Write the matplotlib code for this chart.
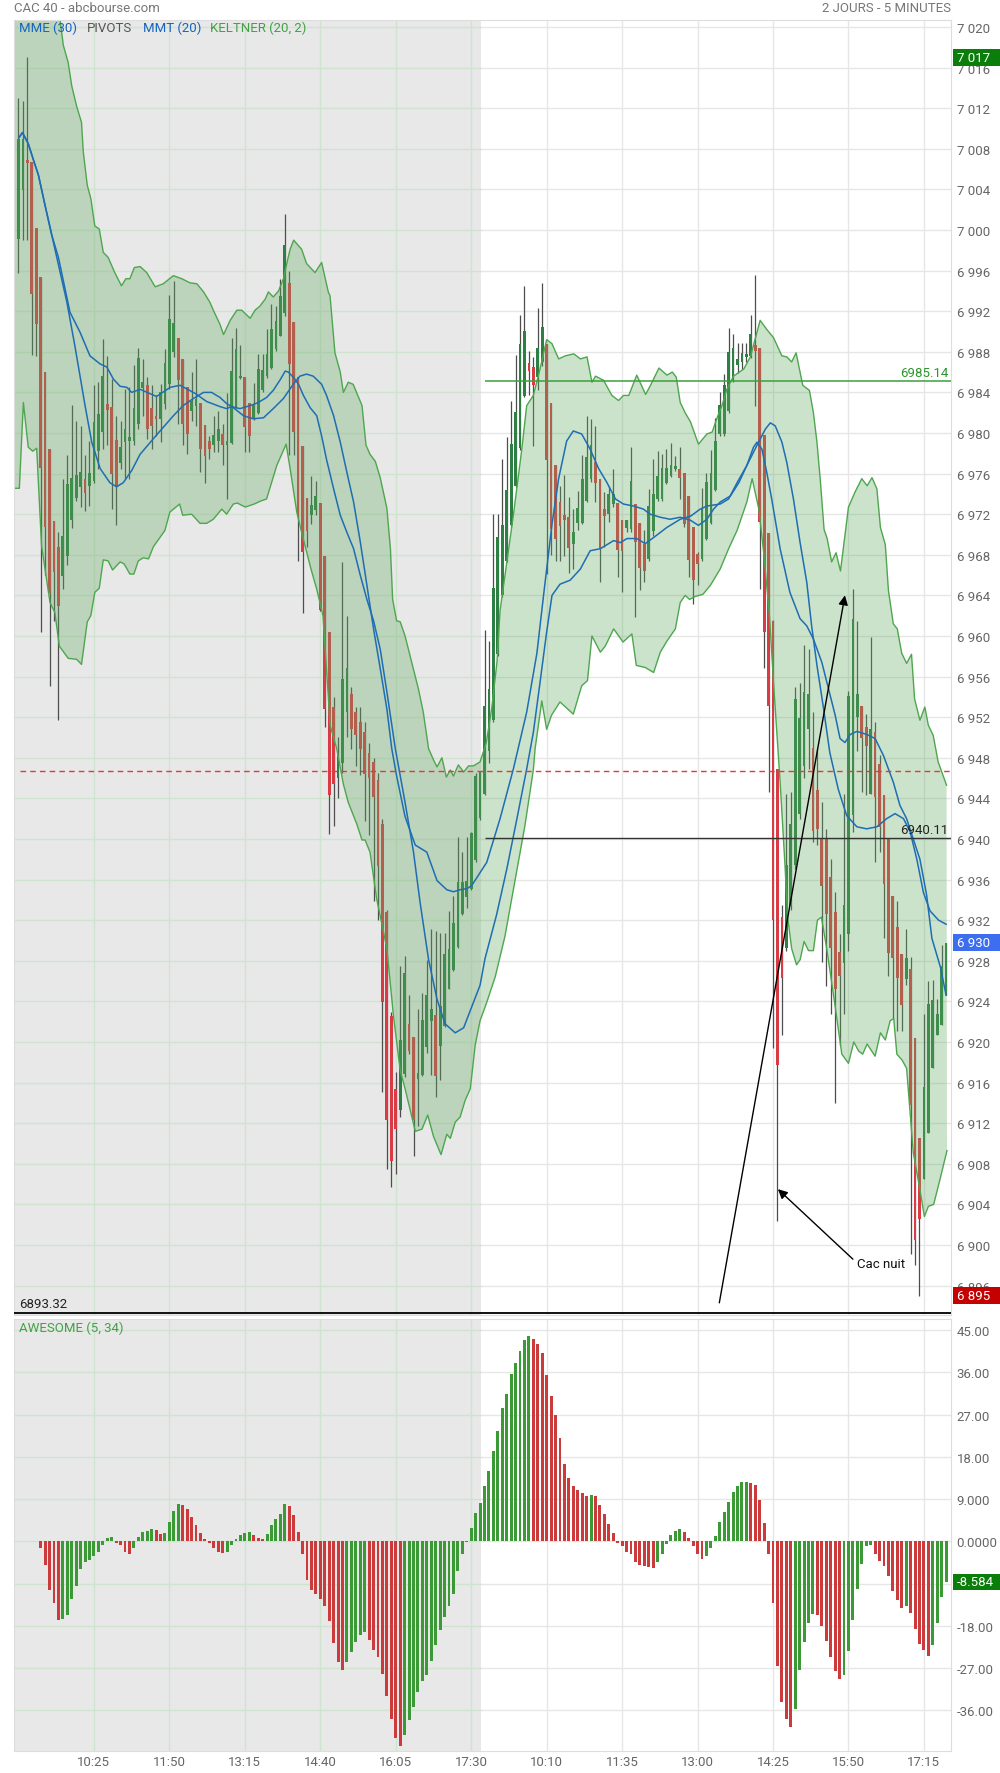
import matplotlib

matplotlib.use("Agg")
import matplotlib.pyplot as plt
import matplotlib.transforms as mtransforms
from matplotlib.patches import Rectangle
import numpy as np

plt.rcParams["font.family"] = ["Roboto", "DejaVu Sans"]

# ---- candles, 5 min, index 0 = day 1 09:00, index 105 = day 2 09:00 ----
opens = [
    6999.1, 7003.9, 7006.8, 7006.7, 7000.2, 6995.4, 6986.0, 6978.4, 6971.3, 6968.8,
    6965.9, 6967.9, 6971.4, 6973.6, 6974.7, 6975.5, 6974.8, 6975.3, 6978.2, 6980.1,
    6982.9, 6982.6, 6979.3, 6977.0, 6979.1, 6979.2, 6979.2, 6980.9, 6984.4, 6984.7,
    6982.5, 6981.7, 6981.4, 6982.9, 6984.8, 6988.0, 6989.4, 6987.3, 6984.5, 6982.2,
    6982.7, 6983.0, 6980.8, 6979.2, 6978.8, 6979.2, 6979.9, 6978.8, 6979.0, 6982.5,
    6985.4, 6985.5, 6983.0, 6981.4, 6982.0, 6984.2, 6985.6, 6986.4, 6988.3, 6989.6,
    6991.8, 6994.8, 6990.9, 6985.5, 6978.7, 6973.6, 6971.9, 6972.4, 6973.1, 6967.9,
    6960.4, 6953.0, 6946.0, 6947.5, 6952.5, 6954.3, 6952.5, 6951.5, 6950.5, 6948.5,
    6947.6, 6945.8, 6941.5, 6932.8, 6922.6, 6915.4, 6913.3, 6916.8, 6921.8, 6920.5,
    6916.4, 6916.7, 6919.5, 6922.1, 6922.7, 6919.6, 6921.6, 6925.2, 6927.1, 6929.4,
    6932.6, 6934.3, 6935.1, 6937.9, 6942.1, 6944.4, 6948.7, 6951.7, 6958.2, 6964.0,
    6967.4, 6970.9, 6974.8, 6978.5, 6983.6, 6986.9, 6986.5, 6985.5, 6987.0, 6988.8,
    6983.0, 6976.8, 6973.2, 6971.9, 6971.7, 6969.1, 6971.1, 6971.1, 6973.3, 6975.5,
    6977.1, 6975.5, 6972.5, 6972.0, 6973.0, 6973.1, 6971.4, 6970.6, 6970.5, 6973.0,
    6971.1, 6969.1, 6967.6, 6970.3, 6973.5, 6973.5, 6975.1, 6975.8, 6976.5, 6976.5,
    6976.1, 6973.8, 6970.7, 6968.1, 6967.6, 6969.6, 6971.1, 6974.4, 6979.9, 6979.9,
    6982.2, 6985.2, 6986.7, 6987.0, 6987.5, 6987.6, 6988.7, 6988.4, 6979.8, 6970.1,
    6961.5, 6946.9, 6932.3, 6929.3, 6933.4, 6937.4, 6942.5, 6947.2, 6950.8, 6949.0,
    6944.8, 6940.1, 6940.1, 6936.3, 6932.8, 6928.9, 6927.8, 6930.6, 6942.4, 6952.0,
    6953.1, 6951.0, 6944.4, 6950.5, 6947.4, 6944.3, 6940.0, 6934.4, 6931.3, 6928.7,
    6926.2, 6927.2, 6920.4, 6910.5, 6906.5, 6911.0, 6917.4, 6920.7, 6921.7, 6924.6,
]
highs = [
    7013.0, 7012.7, 7017.0, 7006.7, 7000.2, 6995.4, 6986.0, 6978.4, 6971.3, 6970.2,
    6975.5, 6977.8, 6982.8, 6981.2, 6980.7, 6977.8, 6979.2, 6984.7, 6985.0, 6989.3,
    6987.6, 6985.3, 6981.7, 6981.2, 6984.3, 6984.5, 6986.7, 6988.4, 6987.3, 6985.5,
    6984.7, 6983.7, 6984.8, 6988.3, 6993.6, 6995.0, 6989.4, 6987.3, 6984.5, 6986.0,
    6987.3, 6983.0, 6980.8, 6979.7, 6981.7, 6982.2, 6980.9, 6983.9, 6989.4, 6990.3,
    6988.7, 6985.5, 6983.0, 6984.9, 6987.8, 6987.8, 6990.2, 6992.7, 6992.5, 6995.2,
    7001.6, 6996.0, 6990.9, 6985.5, 6978.7, 6973.6, 6975.8, 6975.3, 6973.1, 6967.9,
    6960.4, 6954.0, 6950.0, 6967.3, 6962.0, 6955.0, 6953.0, 6953.0, 6951.5, 6949.5,
    6948.0, 6946.5, 6942.0, 6933.0, 6923.0, 6917.0, 6927.5, 6928.5, 6924.6, 6920.5,
    6923.2, 6924.8, 6928.1, 6931.1, 6930.9, 6930.7, 6930.7, 6932.9, 6934.4, 6940.2,
    6938.7, 6940.2, 6940.7, 6946.5, 6946.7, 6960.6, 6959.5, 6972.0, 6972.0, 6977.4,
    6979.6, 6983.2, 6987.7, 6991.6, 6994.5, 6988.1, 6987.5, 6992.3, 6994.8, 6988.8,
    6983.0, 6976.8, 6974.8, 6975.9, 6973.7, 6972.5, 6974.3, 6977.8, 6981.7, 6981.4,
    6980.7, 6975.5, 6974.2, 6974.8, 6976.5, 6973.1, 6971.4, 6971.4, 6978.6, 6973.0,
    6971.1, 6970.4, 6974.5, 6977.4, 6978.2, 6977.9, 6978.4, 6979.0, 6977.7, 6978.6,
    6976.1, 6973.8, 6970.7, 6968.3, 6974.6, 6976.1, 6978.3, 6981.5, 6984.0, 6985.8,
    6990.3, 6989.8, 6988.9, 6988.9, 6988.9, 6991.6, 6995.6, 6988.4, 6979.8, 6970.1,
    6961.6, 6946.9, 6933.5, 6944.4, 6944.6, 6955.0, 6955.4, 6959.1, 6958.7, 6952.5,
    6948.9, 6943.6, 6941.0, 6938.0, 6934.8, 6930.6, 6944.4, 6954.6, 6964.6, 6961.5,
    6953.1, 6952.3, 6959.9, 6951.5, 6948.3, 6944.3, 6940.0, 6934.4, 6933.9, 6928.7,
    6931.1, 6928.4, 6920.4, 6910.5, 6922.8, 6926.0, 6926.1, 6924.2, 6929.6, 6929.8,
]
lows = [
    6995.8, 6999.0, 6999.0, 6987.7, 6987.6, 6960.4, 6966.0, 6955.1, 6961.5, 6951.7,
    6964.6, 6967.0, 6970.6, 6973.3, 6972.7, 6972.3, 6972.8, 6975.1, 6976.5, 6978.4,
    6978.8, 6972.5, 6970.9, 6976.5, 6975.5, 6975.5, 6978.8, 6980.4, 6981.7, 6979.4,
    6978.4, 6979.7, 6979.1, 6982.4, 6984.3, 6987.5, 6980.9, 6978.8, 6977.9, 6981.2,
    6980.7, 6976.2, 6975.1, 6977.4, 6978.1, 6978.1, 6976.8, 6973.5, 6978.9, 6982.5,
    6985.3, 6978.1, 6978.1, 6981.3, 6981.9, 6984.0, 6985.4, 6986.3, 6988.1, 6989.6,
    6991.5, 6977.8, 6977.8, 6967.4, 6962.3, 6968.8, 6971.0, 6971.9, 6962.5, 6951.0,
    6940.5, 6941.3, 6944.0, 6946.5, 6950.0, 6948.9, 6947.2, 6946.3, 6941.8, 6940.4,
    6933.9, 6932.0, 6915.1, 6907.5, 6905.7, 6907.0, 6912.6, 6916.5, 6918.8, 6908.8,
    6911.7, 6916.6, 6918.9, 6916.7, 6914.6, 6916.3, 6921.5, 6925.2, 6927.0, 6929.3,
    6932.5, 6933.2, 6935.0, 6937.7, 6941.9, 6944.3, 6947.5, 6951.5, 6958.0, 6963.8,
    6967.3, 6970.7, 6974.7, 6978.3, 6983.5, 6983.7, 6978.7, 6984.2, 6986.6, 6966.1,
    6968.0, 6967.4, 6967.4, 6967.9, 6966.2, 6966.6, 6970.4, 6971.0, 6973.2, 6975.2,
    6973.2, 6965.3, 6968.8, 6971.2, 6972.7, 6965.8, 6964.3, 6970.2, 6970.2, 6961.9,
    6964.5, 6965.3, 6967.4, 6969.9, 6973.3, 6973.3, 6975.0, 6975.7, 6976.3, 6973.5,
    6970.7, 6965.8, 6963.2, 6965.0, 6967.4, 6969.5, 6971.0, 6974.3, 6979.7, 6979.7,
    6982.0, 6985.0, 6985.9, 6986.3, 6987.0, 6987.4, 6982.7, 6964.6, 6956.8, 6944.6,
    6919.4, 6902.4, 6920.7, 6929.0, 6933.0, 6937.0, 6942.0, 6946.0, 6946.9, 6939.7,
    6939.4, 6927.9, 6925.5, 6922.8, 6914.0, 6919.7, 6922.8, 6929.0, 6940.7, 6948.7,
    6944.6, 6944.3, 6944.4, 6937.7, 6938.7, 6930.2, 6926.5, 6922.3, 6921.1, 6921.1,
    6925.6, 6899.1, 6898.0, 6895.0, 6906.5, 6911.0, 6917.4, 6920.7, 6921.7, 6924.6,
]
closes = [
    7009.0, 7009.0, 7006.6, 6993.7, 6990.7, 6976.6, 6970.7, 6964.2, 6966.3, 6963.0,
    6969.9, 6975.0, 6975.6, 6975.9, 6976.2, 6974.1, 6976.1, 6981.1, 6981.9, 6985.6,
    6982.3, 6976.0, 6974.7, 6978.6, 6980.4, 6979.6, 6982.5, 6987.4, 6985.0, 6980.4,
    6980.7, 6981.4, 6984.0, 6986.9, 6991.2, 6990.8, 6985.2, 6980.9, 6979.9, 6983.2,
    6983.3, 6978.4, 6977.7, 6978.4, 6979.8, 6980.4, 6978.8, 6979.2, 6986.1, 6988.3,
    6985.6, 6980.6, 6979.7, 6982.8, 6986.3, 6986.2, 6987.8, 6990.2, 6991.0, 6993.5,
    6998.5, 6986.8, 6980.1, 6971.9, 6968.3, 6970.3, 6972.9, 6973.8, 6962.6, 6952.8,
    6944.3, 6945.4, 6948.3, 6955.8, 6956.8, 6950.8, 6950.2, 6948.9, 6946.4, 6946.0,
    6944.1, 6937.3, 6923.9, 6912.3, 6908.3, 6911.4, 6920.2, 6926.8, 6919.1, 6912.3,
    6916.9, 6922.2, 6924.6, 6923.2, 6916.6, 6923.5, 6928.7, 6929.2, 6931.7, 6935.8,
    6935.8, 6935.9, 6940.6, 6946.2, 6946.6, 6953.1, 6954.8, 6964.7, 6969.8, 6970.9,
    6974.4, 6978.9, 6982.1, 6988.8, 6990.0, 6986.1, 6984.7, 6988.4, 6990.4, 6977.3,
    6970.5, 6969.6, 6970.8, 6971.4, 6968.7, 6970.2, 6972.6, 6975.5, 6977.6, 6978.8,
    6975.1, 6968.7, 6971.8, 6974.0, 6974.0, 6968.5, 6968.4, 6971.4, 6975.3, 6969.3,
    6966.7, 6966.4, 6972.8, 6974.0, 6975.8, 6976.6, 6976.6, 6976.8, 6976.7, 6975.6,
    6971.0, 6967.5, 6965.5, 6967.1, 6972.6, 6975.2, 6976.1, 6979.2, 6982.8, 6984.7,
    6988.0, 6988.4, 6987.3, 6987.9, 6987.7, 6989.8, 6988.1, 6971.2, 6960.4, 6953.1,
    6932.0, 6917.7, 6926.3, 6937.4, 6941.5, 6953.8, 6951.9, 6954.5, 6954.3, 6940.8,
    6941.0, 6935.4, 6932.6, 6929.3, 6925.2, 6926.5, 6933.5, 6954.1, 6961.7, 6954.3,
    6949.9, 6949.2, 6950.8, 6944.1, 6941.2, 6935.6, 6928.8, 6928.3, 6926.3, 6923.6,
    6928.3, 6913.8, 6900.5, 6902.6, 6915.6, 6923.7, 6924.1, 6922.8, 6927.5, 6929.8,
]

# Keltner (20, 2) band edges, (candle index, price)
kelt_upper = [
    (-1.0, 7026.0), (5.0, 7025.0), (9.35, 7020.8), (10.1, 7018.2), (11.2, 7016.5), (12.0, 7014.2),
    (13.1, 7012.2), (14.2, 7010.6), (14.6, 7007.7), (15.5, 7004.4), (16.3, 7003.1), (17.2, 7000.4),
    (18.2, 7000.1), (19.1, 6997.8), (20.2, 6997.3), (21.7, 6995.8), (23.2, 6994.5), (24.2, 6995.2),
    (25.1, 6995.2), (26.1, 6996.3), (27.4, 6996.4), (28.9, 6995.8), (30.8, 6994.4), (32.6, 6994.7),
    (34.9, 6995.5), (36.8, 6995.2), (38.6, 6994.8), (40.2, 6994.7), (41.7, 6993.9), (43.1, 6992.9),
    (43.9, 6992.1), (45.4, 6990.7), (46.2, 6989.7), (47.7, 6991.1), (49.2, 6992.1), (50.3, 6992.1),
    (52.2, 6991.3), (53.3, 6992.1), (54.4, 6992.5), (55.6, 6993.2), (56.3, 6993.9), (57.4, 6993.4),
    (58.6, 6994.0), (59.7, 6995.2), (60.6, 6997.0), (61.2, 6998.1), (62.0, 6999.0), (62.8, 6998.6),
    (63.8, 6998.1), (64.9, 6996.7), (66.8, 6995.8), (68.3, 6996.8), (69.8, 6993.9), (70.2, 6993.5),
    (71.3, 6987.9), (72.5, 6986.0), (73.2, 6984.0), (74.3, 6985.0), (75.4, 6984.8), (77.4, 6982.7),
    (78.3, 6978.8), (79.2, 6977.9), (80.4, 6977.2), (81.5, 6975.6), (83.0, 6972.6), (83.8, 6968.6),
    (84.3, 6963.6), (85.2, 6961.5), (86.0, 6961.4), (87.1, 6960.0), (88.6, 6957.4), (90.1, 6954.8),
    (91.2, 6952.5), (92.4, 6948.9), (93.5, 6947.8), (94.3, 6947.1), (95.4, 6948.0), (96.4, 6946.1),
    (97.3, 6946.8), (98.0, 6946.2), (99.1, 6947.3), (100.3, 6946.6), (101.4, 6947.2), (102.5, 6947.2),
    (104.0, 6947.6), (105.4, 6949.5), (106.6, 6952.8), (107.8, 6957.4), (108.5, 6962.5), (111.5, 6971.9),
    (113.4, 6978.4), (114.5, 6982.7), (116.0, 6983.7), (117.5, 6986.3), (119.0, 6989.2), (120.2, 6988.8),
    (121.7, 6987.3), (123.2, 6987.6), (125.1, 6987.8), (126.6, 6987.3), (128.1, 6987.5), (129.2, 6985.0),
    (130.0, 6985.6), (131.8, 6985.2), (133.7, 6983.7), (135.2, 6983.2), (136.3, 6983.7), (137.5, 6983.7),
    (139.3, 6985.7), (141.3, 6983.8), (142.4, 6984.7), (144.3, 6986.4), (146.1, 6985.7), (147.3, 6986.0),
    (148.2, 6985.5), (149.1, 6983.0), (150.2, 6982.0), (151.4, 6981.1), (153.2, 6978.9), (155.1, 6979.9),
    (156.3, 6980.1), (157.4, 6981.5), (158.5, 6982.7), (159.6, 6984.3), (161.1, 6985.6), (163.4, 6986.3),
    (164.9, 6987.5), (167.1, 6991.1), (168.6, 6990.2), (170.1, 6989.4), (172.0, 6987.6), (173.1, 6987.5),
    (174.2, 6987.0), (175.2, 6987.9), (176.7, 6984.7), (178.2, 6984.2), (179.1, 6982.0), (179.9, 6979.1),
    (180.7, 6975.1), (181.5, 6970.5), (182.2, 6969.6), (183.2, 6967.3), (184.2, 6968.2), (185.2, 6966.4),
    (187.0, 6972.7), (188.5, 6974.2), (190.0, 6975.5), (191.2, 6974.8), (192.3, 6975.6), (193.4, 6974.5),
    (194.2, 6970.7), (195.3, 6969.0), (196.0, 6964.5), (197.1, 6961.2), (198.0, 6960.7), (199.0, 6958.3),
    (200.1, 6957.3), (201.2, 6958.2), (201.9, 6953.8), (203.1, 6951.7), (204.2, 6953.0), (205.0, 6951.2),
    (206.1, 6950.2), (207.2, 6947.6), (209.1, 6945.3),
]
kelt_lower = [
    (-1.0, 6974.55), (0.2, 6974.55), (1.1, 6983.0), (2.2, 6978.6), (3.2, 6978.2), (4.1, 6978.5),
    (5.2, 6968.9), (7.1, 6963.3), (8.2, 6962.3), (9.2, 6959.0), (11.2, 6957.8), (13.1, 6957.7),
    (14.2, 6957.2), (15.5, 6961.4), (16.3, 6962.0), (17.2, 6964.3), (18.2, 6964.7), (19.1, 6967.5),
    (20.2, 6967.4), (21.2, 6966.5), (22.9, 6967.3), (23.8, 6967.1), (25.1, 6966.1), (26.0, 6966.1),
    (27.0, 6967.4), (28.1, 6967.7), (29.3, 6967.6), (30.4, 6968.8), (33.0, 6970.4), (34.1, 6972.2),
    (36.3, 6973.0), (37.0, 6971.9), (39.0, 6972.0), (40.9, 6971.1), (42.4, 6971.1), (43.9, 6971.5),
    (45.8, 6972.5), (46.9, 6972.0), (48.4, 6973.0), (49.3, 6973.1), (51.1, 6972.7), (53.1, 6973.0),
    (54.6, 6973.3), (55.9, 6973.5), (56.8, 6974.8), (58.2, 6976.8), (60.3, 6978.9), (61.2, 6976.5),
    (62.7, 6972.2), (63.8, 6970.2), (65.9, 6966.6), (67.2, 6964.6), (68.6, 6962.0), (69.1, 6958.7),
    (69.8, 6954.1), (70.2, 6951.2), (71.7, 6948.9), (73.2, 6945.4), (74.3, 6943.6), (76.2, 6941.5),
    (77.4, 6939.9), (78.1, 6939.9), (79.2, 6938.7), (80.7, 6934.1), (83.0, 6929.2), (84.5, 6922.5),
    (86.0, 6917.2), (87.1, 6915.4), (89.4, 6911.2), (90.9, 6911.4), (92.2, 6912.8), (93.5, 6910.7),
    (95.2, 6908.9), (96.5, 6910.9), (97.3, 6910.5), (98.4, 6912.1), (99.5, 6912.6), (100.6, 6914.2),
    (101.8, 6915.4), (102.9, 6919.7), (104.0, 6922.1), (105.5, 6923.9), (107.4, 6926.4), (109.6, 6930.4),
    (111.9, 6936.0), (114.1, 6941.3), (116.0, 6946.8), (116.4, 6948.9), (117.9, 6953.6), (119.0, 6950.8),
    (120.1, 6952.2), (122.0, 6953.5), (125.0, 6952.3), (126.9, 6955.1), (128.2, 6955.6), (129.2, 6960.0),
    (131.1, 6958.4), (132.2, 6959.0), (134.1, 6960.7), (136.2, 6959.4), (138.2, 6960.2), (139.2, 6957.1),
    (141.2, 6956.9), (143.1, 6956.4), (144.6, 6958.4), (146.1, 6959.5), (148.0, 6960.7), (149.1, 6963.3),
    (150.2, 6964.0), (151.2, 6963.6), (152.5, 6963.9), (154.2, 6964.1), (155.9, 6965.0), (158.1, 6966.6),
    (160.0, 6968.6), (161.9, 6970.4), (164.1, 6973.2), (165.3, 6975.5), (166.8, 6972.5), (167.9, 6968.2),
    (169.2, 6962.0), (170.1, 6955.5), (171.6, 6945.6), (172.7, 6937.4), (173.3, 6932.3), (174.2, 6929.2),
    (175.3, 6927.6), (176.1, 6928.1), (177.0, 6929.9), (178.0, 6929.0), (179.1, 6929.0), (180.0, 6932.0),
    (180.9, 6932.3), (182.1, 6929.2), (184.0, 6923.5), (185.5, 6918.8), (187.0, 6917.9), (188.2, 6920.0),
    (189.3, 6919.1), (190.2, 6918.8), (191.2, 6919.8), (193.0, 6918.6), (194.2, 6920.9), (195.3, 6920.2),
    (196.4, 6922.1), (197.2, 6922.3), (197.9, 6918.8), (199.1, 6918.2), (200.1, 6917.4), (201.6, 6909.1),
    (203.2, 6905.2), (204.1, 6902.8), (205.0, 6903.8), (206.2, 6904.0), (207.7, 6906.6), (209.2, 6909.3),
]

# moving averages, (candle index, price)
mmt_line = [
    (0.1, 7009.1), (0.9, 7009.6), (2.2, 7008.5), (3.3, 7007.0), (4.5, 7005.4), (6.0, 7002.4),
    (7.5, 6999.5), (9.0, 6997.3), (11.6, 6991.9), (13.9, 6989.9), (16.1, 6987.6), (18.4, 6986.8),
    (19.9, 6986.5), (21.4, 6985.3), (22.9, 6984.6), (24.4, 6984.5), (25.5, 6984.0), (27.4, 6984.3),
    (31.1, 6983.6), (34.2, 6984.5), (36.4, 6984.7), (39.8, 6983.9), (42.4, 6983.1), (45.4, 6982.6),
    (46.9, 6982.4), (48.0, 6982.6), (49.9, 6982.4), (52.2, 6982.7), (54.0, 6983.0), (55.9, 6983.5),
    (57.4, 6984.2), (58.9, 6985.2), (60.1, 6986.1), (60.8, 6986.0), (61.9, 6985.5), (63.1, 6984.8),
    (64.2, 6983.7), (65.7, 6982.5), (67.2, 6981.7), (68.3, 6979.7), (69.4, 6977.4), (71.0, 6974.5),
    (72.5, 6971.9), (74.0, 6970.2), (75.5, 6968.6), (77.0, 6966.0), (78.5, 6963.6), (80.0, 6961.5),
    (81.5, 6958.7), (83.0, 6954.5), (84.9, 6948.9), (87.1, 6943.6), (89.0, 6938.7), (90.5, 6933.7),
    (92.4, 6928.1), (94.3, 6924.2), (96.1, 6921.8), (98.4, 6920.9), (100.3, 6921.4), (102.5, 6923.9),
    (104.0, 6925.6), (105.1, 6928.2), (107.7, 6932.5), (110.0, 6937.0), (112.3, 6942.0), (114.5, 6946.9),
    (116.0, 6950.5), (117.5, 6955.4), (119.0, 6960.4), (120.2, 6964.0), (122.0, 6965.1), (124.3, 6965.5),
    (126.6, 6966.6), (128.8, 6968.4), (131.1, 6968.6), (134.1, 6969.4), (135.6, 6969.2), (137.1, 6969.6),
    (139.3, 6969.6), (141.2, 6969.1), (143.1, 6969.7), (146.1, 6970.7), (149.1, 6971.5), (151.4, 6971.8),
    (153.6, 6972.5), (155.1, 6972.8), (158.1, 6973.0), (160.0, 6973.5), (161.9, 6975.1), (164.1, 6976.8),
    (166.4, 6978.8), (168.3, 6980.4), (169.4, 6981.0), (170.5, 6980.7), (172.0, 6979.1), (173.1, 6977.1),
    (174.6, 6973.5), (176.1, 6969.2), (177.6, 6965.3), (178.7, 6961.0), (179.9, 6957.1), (181.3, 6953.1),
    (182.8, 6948.5), (184.7, 6944.9), (186.6, 6942.3), (188.9, 6941.2), (191.1, 6941.0), (193.4, 6941.2),
    (195.6, 6942.0), (197.5, 6942.5), (199.4, 6942.0), (200.9, 6940.7), (202.4, 6938.0), (203.9, 6934.7),
    (205.4, 6932.9), (207.3, 6932.0), (209.0, 6931.6),
]
mme_line = [
    (0.1, 7009.1), (0.9, 7009.6), (2.2, 7008.5), (3.3, 7007.0), (4.5, 7005.4), (6.0, 7002.4),
    (7.5, 6999.5), (9.4, 6995.8), (10.9, 6992.9), (12.7, 6988.6), (15.0, 6982.7), (16.5, 6979.1),
    (18.4, 6976.5), (20.6, 6975.1), (22.1, 6974.7), (23.6, 6975.1), (25.5, 6976.3), (27.4, 6977.9),
    (31.1, 6979.8), (34.9, 6981.7), (37.1, 6982.7), (39.4, 6983.4), (41.7, 6984.0), (43.5, 6984.0),
    (45.4, 6983.5), (46.9, 6982.9), (48.4, 6982.5), (50.7, 6981.7), (52.9, 6981.4), (55.2, 6981.5),
    (57.4, 6982.4), (59.7, 6983.4), (61.9, 6984.8), (63.4, 6985.6), (64.9, 6985.8), (66.4, 6985.6),
    (68.3, 6984.8), (69.4, 6983.7), (71.0, 6981.7), (72.5, 6979.1), (74.0, 6976.1), (75.5, 6973.2),
    (77.0, 6969.3), (78.5, 6965.0), (80.0, 6960.7), (81.5, 6956.8), (83.0, 6952.8), (84.1, 6948.9),
    (85.2, 6946.2), (87.1, 6942.2), (89.4, 6939.4), (92.0, 6938.7), (94.3, 6935.9), (96.5, 6935.0),
    (98.0, 6934.8), (99.5, 6935.0), (101.0, 6935.1), (102.1, 6935.4), (105.5, 6937.7), (108.5, 6942.0),
    (111.5, 6946.9), (114.5, 6952.5), (116.8, 6958.3), (118.3, 6964.0), (120.2, 6971.0), (121.7, 6975.5),
    (123.5, 6979.2), (125.0, 6980.2), (126.9, 6979.9), (128.8, 6978.4), (130.7, 6976.5), (132.6, 6975.1),
    (134.5, 6973.5), (136.3, 6973.0), (138.6, 6972.8), (140.8, 6972.5), (142.3, 6972.0), (144.6, 6971.7),
    (146.8, 6971.5), (149.1, 6971.7), (151.4, 6971.4), (153.2, 6970.9), (155.1, 6971.5), (156.6, 6972.5),
    (158.1, 6973.2), (160.4, 6973.8), (162.3, 6975.1), (164.1, 6976.8), (165.6, 6978.6), (166.4, 6979.1),
    (167.5, 6978.4), (168.6, 6976.1), (169.7, 6973.5), (171.6, 6968.6), (173.8, 6964.3), (176.1, 6961.7),
    (177.6, 6961.0), (179.1, 6959.7), (181.0, 6957.4), (182.5, 6954.8), (184.0, 6952.2), (185.1, 6949.9),
    (186.2, 6949.5), (187.4, 6950.3), (188.9, 6950.6), (191.1, 6950.3), (193.0, 6949.9), (194.9, 6948.2),
    (197.1, 6945.6), (198.6, 6943.3), (200.1, 6942.0), (201.6, 6940.0), (203.1, 6938.0), (204.6, 6934.5),
    (205.8, 6930.2), (207.7, 6927.4), (209.0, 6924.6),
]

# Awesome oscillator (5, 34), first bar at candle index 5
ao_first = 5
ao_values = [
    -1.4, -5.0, -10.3, -13.1, -16.7, -16.6, -15.6, -12.2, -9.5, -6.0,
    -4.5, -3.9, -3.1, -2.2, -0.8, 0.7, 0.9, -0.3, -0.8, -2.2,
    -2.6, -1.4, 0.9, 2.0, 2.2, 2.6, 2.4, 1.6, 1.8, 4.1,
    6.5, 8.0, 7.7, 6.9, 5.2, 3.5, 1.8, 0.5, -0.4, -1.4,
    -2.2, -2.5, -2.2, -0.8, 0.5, 1.3, 1.8, 2.0, 1.3, 0.7,
    0.5, 1.6, 3.5, 4.8, 5.8, 8.0, 7.5, 5.6, 2.0, -2.8,
    -8.2, -10.3, -11.2, -12.2, -13.7, -16.9, -21.6, -25.7, -27.4, -25.7,
    -23.5, -21.4, -19.9, -19.3, -21.0, -23.1, -24.6, -28.2, -32.9, -37.8,
    -41.9, -43.6, -41.2, -38.0, -35.3, -32.1, -29.7, -28.4, -25.5, -22.0,
    -19.0, -16.1, -13.7, -11.2, -6.3, -2.6, -0.1, 2.8, 6.0, 8.2,
    11.8, 15.0, 19.3, 23.5, 28.4, 31.4, 35.7, 38.0, 40.6, 42.9,
    43.8, 43.1, 42.1, 40.2, 35.5, 31.0, 26.9, 22.0, 16.5, 13.5,
    11.8, 10.9, 10.3, 9.7, 9.9, 9.7, 7.7, 5.8, 3.7, 1.8,
    -0.3, -1.1, -2.2, -2.8, -4.3, -5.0, -5.2, -5.4, -5.6, -4.3,
    -2.6, -0.5, 1.3, 2.2, 2.6, 2.0, 0.7, -1.1, -2.6, -3.7,
    -3.1, -1.4, 1.1, 4.1, 6.2, 8.4, 10.5, 11.8, 12.6, 12.7,
    12.4, 12.0, 8.8, 3.9, -2.6, -13.1, -26.5, -34.2, -37.8, -39.5,
    -35.7, -27.4, -21.4, -17.4, -15.4, -15.6, -18.0, -21.2, -24.6, -27.6,
    -29.3, -28.4, -23.3, -16.7, -10.1, -4.8, -0.9, -0.7, -2.8, -4.1,
    -5.2, -7.3, -10.5, -12.5, -14.2, -13.7, -15.2, -18.6, -21.8, -23.1,
    -24.4, -22.0, -17.4, -11.8, -8.584,
]

time_ticks = [17, 34, 51, 68, 85, 102, 119, 136, 153, 170, 187, 204]
time_labels = ["10:25", "11:50", "13:15", "14:40", "16:05", "17:30",
               "10:10", "11:35", "13:00", "14:25", "15:50", "17:15"]
day2_start = 104.1

pivot_level = 6985.14
support_level = 6940.11
prev_close = 6946.7
bottom_level = 6893.32
last_price = 6929.8
day_high = 7017.0
day_low = 6895.0
ao_last = -8.584

# ---- figure ----
W, H = 1000, 1774
fig = plt.figure(figsize=(W / 100, H / 100), dpi=100)
fig.patch.set_facecolor("white")


def rect(x0, y0, x1, y1):
    return [x0 / W, 1 - y1 / H, (x1 - x0) / W, (y1 - y0) / H]


def fig_text(x, y, s, **kw):
    fig.text(x / W, 1 - y / H, s, **kw)


ax = fig.add_axes(rect(14, 21, 951, 1316))
ao = fig.add_axes(rect(14, 1320, 951, 1752), sharex=ax)

XMIN, XMAX = -1.01, 210.1
GRID1, GRID2 = "#cfe3cf", "#e6e6e6"
GREEN_C, RED_C = "#2d7f43", "#d93b44"
TICK_C = "#666666"

price_ticks = np.arange(6896, 7021, 4)
ao_grid = [45, 36, 27, 18, 9, 0, -9, -18, -27, -36]
ao_ticks = [45, 36, 27, 18, 9, 0, -18, -27, -36]
ao_tick_labels = ["45.00", "36.00", "27.00", "18.00", "9.000", "0.0000", "-18.00", "-27.00", "-36.00"]

for a, ys in ((ax, price_ticks), (ao, ao_grid)):
    a.axvspan(XMIN, day2_start, color="#e8e8e8", lw=0, zorder=0)
    for y in ys:
        a.plot([XMIN, day2_start], [y, y], color=GRID1, lw=1, zorder=0.5)
        a.plot([day2_start, XMAX], [y, y], color=GRID2, lw=1, zorder=0.5)
    for t in time_ticks:
        a.axvline(t, color=GRID1 if t < day2_start else GRID2, lw=1, zorder=0.5)
    for sp in a.spines.values():
        sp.set_color("#dddddd")
        sp.set_linewidth(0.8)

# candles
o = np.array(opens)
c = np.array(closes)
idx = np.arange(len(o))
up = c >= o
ax.vlines(idx, lows, highs, color="#4d4d4d", lw=0.9, zorder=1)
ax.bar(idx, np.maximum(np.abs(c - o), 0.25), bottom=np.minimum(o, c), width=0.62,
       color=np.where(up, GREEN_C, RED_C), lw=0, zorder=1.2)

# keltner band drawn over the candles
ku = np.array(kelt_upper)
kl = np.array(kelt_lower)
ax.fill(np.r_[ku[:, 0], kl[::-1, 0]], np.r_[ku[:, 1], kl[::-1, 1]],
        color="#63ab63", alpha=0.33, lw=0, zorder=2)
ax.plot(ku[:, 0], ku[:, 1], color="#4ea64e", lw=1, zorder=2.2)
ax.plot(kl[:, 0], kl[:, 1], color="#4ea64e", lw=1, zorder=2.2)

# moving averages
for line in (mmt_line, mme_line):
    arr = np.array(line)
    ax.plot(arr[:, 0], arr[:, 1], color="#1f6db3", lw=1.1, zorder=3)

# levels
ax.hlines(pivot_level, 105.1, XMAX, color="#3c9f3c", lw=1.1, zorder=3)
ax.text(209.4, pivot_level + 0.15, f"{pivot_level:.2f}", ha="right", va="bottom",
        color="#2a962a", fontsize=9.5, zorder=6)
ax.hlines(prev_close, 0.3, XMAX, color="#e53935", lw=1, linestyles=(0, (4, 3)), zorder=3)
ax.hlines(support_level, 105.1, XMAX, color="#333333", lw=1, zorder=3)
ax.text(209.4, support_level + 0.15, f"{support_level:.2f}", ha="right", va="bottom",
        color="#222222", fontsize=9.5, zorder=6)
ax.hlines(bottom_level, XMIN, XMAX, color="#111111", lw=1.4, zorder=3)
ax.text(0.2, bottom_level + 0.3, f"{bottom_level:.2f}", ha="left", va="bottom",
        color="#222222", fontsize=9.5, zorder=6)

# hand-drawn annotations
arrow = dict(arrowstyle="-|>", color="black", lw=1, mutation_scale=14, shrinkA=0, shrinkB=0)
ax.annotate("", xy=(186.2, 6964.0), xytext=(157.9, 6894.3), arrowprops=arrow, zorder=5)
ax.annotate("", xy=(171.1, 6905.5), xytext=(188.0, 6898.6), arrowprops=arrow, zorder=5)
ax.text(189.0, 6898.2, "Cac nuit", ha="left", va="center", fontsize=9.5, color="#111111", zorder=6)

ax.set_xlim(XMIN, XMAX)
ax.set_ylim(6893.1, 7020.69)
ax.yaxis.tick_right()
ax.set_yticks(price_ticks)
ax.set_yticklabels([f"{v:,}".replace(",", " ") for v in price_ticks])
ax.tick_params(axis="y", length=0, pad=4, labelsize=9.5, labelcolor=TICK_C)
ax.tick_params(axis="x", length=0, labelbottom=False)

# awesome oscillator
ao_arr = np.array(ao_values)
ao_x = np.arange(ao_first, ao_first + len(ao_arr))
rising = np.diff(np.r_[0.0, ao_arr]) > 0
ao.bar(ao_x, ao_arr, width=0.66, color=np.where(rising, "#3c9a36", "#cb3b3b"), lw=0, zorder=2)
ao.set_ylim(-44.7, 47.4)
ao.yaxis.tick_right()
ao.set_yticks(ao_ticks)
ao.set_yticklabels(ao_tick_labels)
ao.tick_params(axis="y", length=0, pad=4, labelsize=9.5, labelcolor=TICK_C)
ao.set_xticks(time_ticks)
ao.set_xticklabels(time_labels)
ao.tick_params(axis="x", length=0, pad=3, labelsize=9.5, labelcolor=TICK_C)


def badge(a, y, text, fc, half_h):
    tr = mtransforms.blended_transform_factory(a.transAxes, a.transData)
    a.add_patch(Rectangle((1.0021, y - half_h), 0.0505, 2 * half_h, transform=tr,
                          fc=fc, ec="none", clip_on=False, zorder=9))
    a.text(1.0064, y, text, transform=tr, ha="left", va="center", color="white",
           fontsize=9.5, clip_on=False, zorder=10)


badge(ax, day_high, "7 017", "#0b7d0b", 0.83)
badge(ax, last_price, "6 930", "#3d6ef0", 0.83)
badge(ax, day_low, "6 895", "#c40000", 0.83)
badge(ao, ao_last, f"{ao_last:.3f}", "#0b7d0b", 1.7)

# header and indicator names
fig_text(14, 8.5, "CAC 40 - abcbourse.com", ha="left", va="center", fontsize=9.5, color="#777777")
fig_text(951, 8.5, "2 JOURS - 5 MINUTES", ha="right", va="center", fontsize=9.5, color="#777777")
for x, s, col in ((19, "MME (30)", "#1565c0"), (87, "PIVOTS", "#555555"),
                  (143, "MMT (20)", "#1565c0"), (210, "KELTNER (20, 2)", "#43a047")):
    fig_text(x, 28.5, s, ha="left", va="center", fontsize=9.5, color=col)
fig_text(19, 1328.5, "AWESOME (5, 34)", ha="left", va="center", fontsize=9.5, color="#43a047")

fig.savefig("out.png", dpi=100, facecolor="white")
